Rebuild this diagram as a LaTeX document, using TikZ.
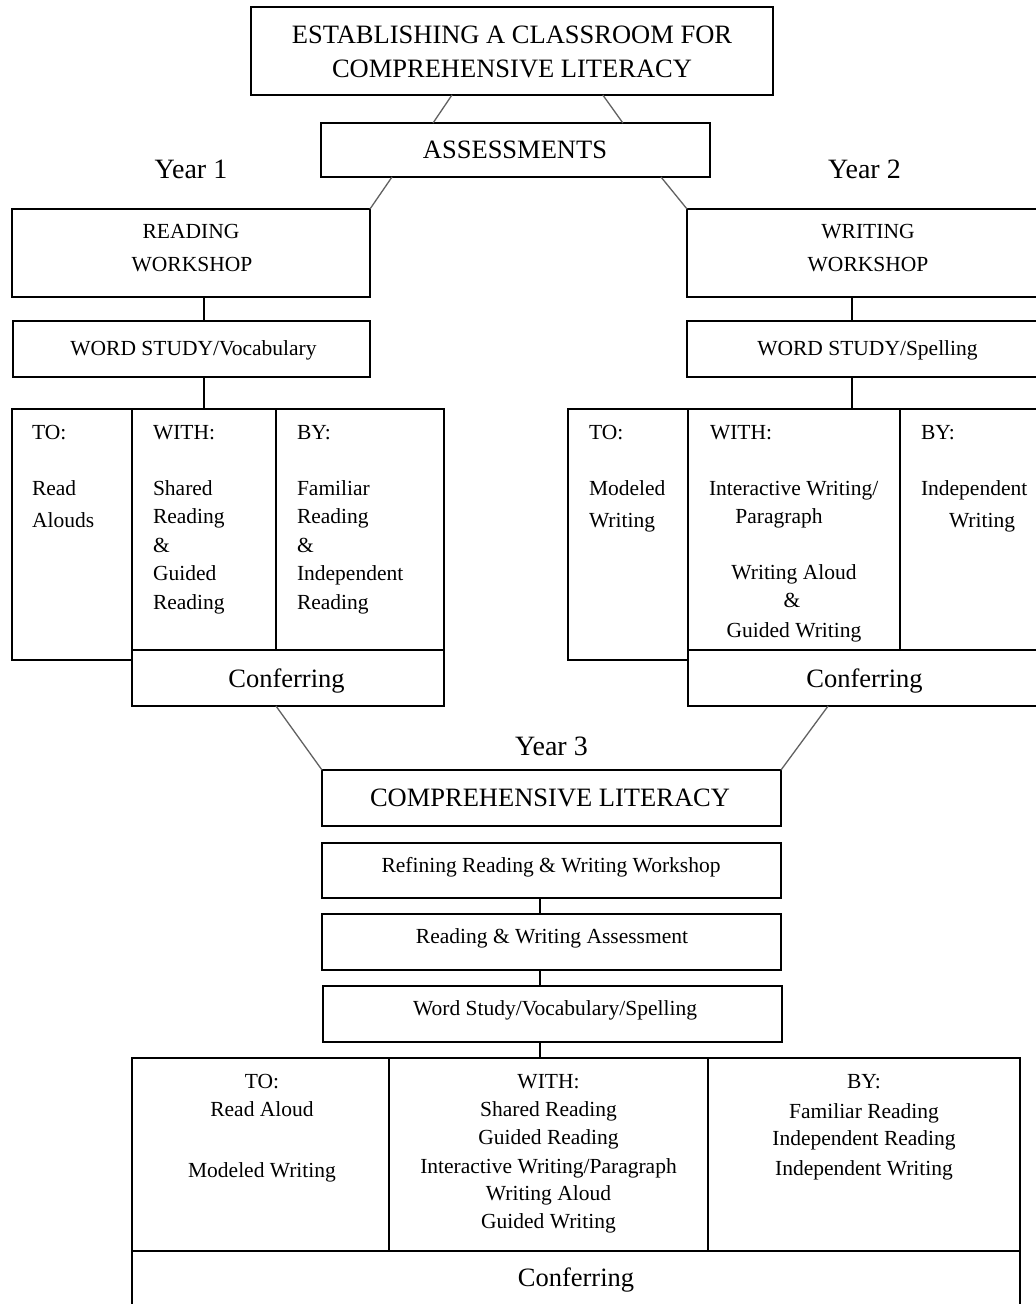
\documentclass[tikz,border=0pt]{standalone}
\usepackage{fontspec}
\setmainfont{Liberation Serif}
\usetikzlibrary{calc}
\begin{document}
\begin{tikzpicture}[x=1pt,y=-1pt,
  box/.style={draw=black,line width=1.6pt,inner sep=0pt,outer sep=0pt},
  big/.style={font=\fontsize{26.5}{30}\selectfont,inner sep=0pt,outer sep=0pt},
  small/.style={font=\fontsize{21.5}{25}\selectfont,inner sep=0pt,outer sep=0pt},
  yr/.style={font=\fontsize{28}{32}\selectfont,inner sep=0pt,outer sep=0pt},
  diag/.style={draw=black!62,line width=1.3pt},
  vline/.style={draw=black,line width=1.6pt}]
\useasboundingbox (0,0) rectangle (1036,1304);
\fill[white] (0,0) rectangle (1036,1304);
\clip (0,0) rectangle (1036,1304);

% ---------- boxes ----------
\node[box,minimum width=522pt,minimum height=88pt] (top) at (512,51) {};
\node[box,minimum width=389pt,minimum height=54pt] (ass) at (515.5,150) {};
\node[box,minimum width=358pt,minimum height=88pt] (rw) at (191,253) {};
\node[box,minimum width=357pt,minimum height=56pt] (wsv) at (191.5,349) {};
\node[box,minimum width=362pt,minimum height=88pt] (ww) at (868,253) {};
\node[box,minimum width=362pt,minimum height=56pt] (wss) at (868,349) {};

\node[box,minimum width=120pt,minimum height=251pt] (to1) at (72,534.5) {};
\node[box,minimum width=144pt,minimum height=241pt] (with1) at (204,529.5) {};
\node[box,minimum width=168pt,minimum height=241pt] (by1) at (360,529.5) {};
\node[box,minimum width=312pt,minimum height=56pt] (conf1) at (288,678) {};

\node[box,minimum width=120pt,minimum height=251pt] (to2) at (628,534.5) {};
\node[box,minimum width=212pt,minimum height=241pt] (with2) at (794,529.5) {};
\node[box,minimum width=160pt,minimum height=241pt] (by2) at (980,529.5) {};
\node[box,minimum width=352pt,minimum height=56pt] (conf2) at (864,678) {};

\node[box,minimum width=459pt,minimum height=56pt] (comp) at (551.5,798) {};
\node[box,minimum width=459pt,minimum height=55pt] (refine) at (551.5,870.5) {};
\node[box,minimum width=459pt,minimum height=56pt] (rwa) at (551.5,942) {};
\node[box,minimum width=459pt,minimum height=56pt] (wsvs) at (552.5,1014) {};

\node[box,minimum width=257pt,minimum height=193pt] (bto) at (260.5,1154.5) {};
\node[box,minimum width=319pt,minimum height=193pt] (bwith) at (548.5,1154.5) {};
\node[box,minimum width=312pt,minimum height=193pt] (bby) at (864,1154.5) {};
\node[box,minimum width=888pt,minimum height=79pt] (bconf) at (576,1290.5) {};

% ---------- connectors ----------
\draw[diag] ($(top.south west)!0.385!(top.south east)$) -- ($(ass.north west)!0.288!(ass.north east)$);
\draw[diag] ($(top.south west)!0.674!(top.south east)$) -- ($(ass.north west)!0.776!(ass.north east)$);
\draw[diag] ($(ass.south west)!0.1825!(ass.south east)$) -- (rw.north east);
\draw[diag] ($(ass.south west)!0.874!(ass.south east)$) -- (ww.north west);

\draw[vline] ($(rw.south west)!0.536!(rw.south east)$) coordinate (a1) -- (a1 |- wsv.north);
\draw[vline] (a1 |- wsv.south) -- (a1 |- with1.north);
\draw[vline] ($(ww.south west)!0.456!(ww.south east)$) coordinate (b1) -- (b1 |- wss.north);
\draw[vline] (b1 |- wss.south) -- (b1 |- with2.north);

\draw[diag] ($(conf1.south west)!0.4615!(conf1.south east)$) -- (comp.north west);
\draw[diag] ($(conf2.south west)!0.398!(conf2.south east)$) -- (comp.north east);

\draw[vline] ($(refine.south west)!0.475!(refine.south east)$) coordinate (c1) -- (c1 |- rwa.north);
\draw[vline] (c1 |- rwa.south) -- (c1 |- wsvs.north);
\draw[vline] (c1 |- wsvs.south) -- (c1 |- bwith.north);

% ---------- texts: top ----------
\node[big,anchor=base] (ttop1) at (512,43) {ESTABLISHING A CLASSROOM FOR};
\node[big,anchor=base] (ttop2) at (512,77) {COMPREHENSIVE LITERACY};
\node[big,anchor=base] (tass) at (515,158) {ASSESSMENTS};
\node[yr,anchor=base] (ty1) at (191,178) {Year 1};
\node[yr,anchor=base] (ty2) at (864.5,178) {Year 2};
\node[small,anchor=base] (trw1) at (191,238) {READING};
\node[small,anchor=base] (trw2) at (192,271) {WORKSHOP};
\node[small,anchor=base] (tww1) at (868,238) {WRITING};
\node[small,anchor=base] (tww2) at (868,271) {WORKSHOP};
\node[small,anchor=base] (twsv) at (193.5,355) {WORD STUDY/Vocabulary};
\node[small,anchor=base] (twss) at (867.5,355) {WORD STUDY/Spelling};

% ---------- Year 1 table ----------
\node[small,anchor=base west] (y1a) at (32,439) {TO:};
\node[small,anchor=base west] (y1b) at (32,495) {Read};
\node[small,anchor=base west] (y1c) at (32,527) {Alouds};
\node[small,anchor=base west] (y1d) at (153,439) {WITH:};
\node[small,anchor=base west] (y1e) at (153,495) {Shared};
\node[small,anchor=base west] (y1f) at (153,523.5) {Reading};
\node[small,anchor=base west] (y1g) at (153,552) {\&};
\node[small,anchor=base west] (y1h) at (153,580.5) {Guided};
\node[small,anchor=base west] (y1i) at (153,609) {Reading};
\node[small,anchor=base west] (y1j) at (297,439) {BY:};
\node[small,anchor=base west] (y1k) at (297,495) {Familiar};
\node[small,anchor=base west] (y1l) at (297,523.5) {Reading};
\node[small,anchor=base west] (y1m) at (297,552) {\&};
\node[small,anchor=base west] (y1n) at (297,580.5) {Independent};
\node[small,anchor=base west] (y1o) at (297,609) {Reading};
\node[big,anchor=base] (y1p) at (286.5,687) {Conferring};

% ---------- Year 2 table ----------
\node[small,anchor=base west] (y2a) at (589,439) {TO:};
\node[small,anchor=base west] (y2b) at (589,495) {Modeled};
\node[small,anchor=base west] (y2c) at (589,527) {Writing};
\node[small,anchor=base west] (y2d) at (710,439) {WITH:};
\node[small,anchor=base west] (y2e) at (709,495) {Interactive Writing/};
\node[small,anchor=base] (y2f) at (779,523) {Paragraph};
\node[small,anchor=base] (y2g) at (794,579) {Writing Aloud};
\node[small,anchor=base] (y2h) at (792,607) {\&};
\node[small,anchor=base] (y2i) at (794,637) {Guided Writing};
\node[small,anchor=base west] (y2j) at (921,439) {BY:};
\node[small,anchor=base west] (y2k) at (921,495) {Independent};
\node[small,anchor=base] (y2l) at (982,527) {Writing};
\node[big,anchor=base] (y2m) at (864.5,687) {Conferring};

% ---------- Year 3 ----------
\node[yr,anchor=base] (ty3) at (551.5,755) {Year 3};
\node[big,anchor=base] (tcomp) at (550,806) {COMPREHENSIVE LITERACY};
\node[small,anchor=base] (tref) at (551,872) {Refining Reading \& Writing Workshop};
\node[small,anchor=base] (trwa) at (552,943) {Reading \& Writing Assessment};
\node[small,anchor=base] (twsvs) at (555,1015) {Word Study/Vocabulary/Spelling};

\node[small,anchor=base] (b1a) at (262,1088) {TO:};
\node[small,anchor=base] (b1b) at (262,1116) {Read Aloud};
\node[small,anchor=base] (b1c) at (262,1177) {Modeled Writing};
\node[small,anchor=base] (b2a) at (548.5,1088) {WITH:};
\node[small,anchor=base] (b2b) at (548.5,1116) {Shared Reading};
\node[small,anchor=base] (b2c) at (548.5,1144) {Guided Reading};
\node[small,anchor=base] (b2d) at (548.5,1173) {Interactive Writing/Paragraph};
\node[small,anchor=base] (b2e) at (548.5,1200) {Writing Aloud};
\node[small,anchor=base] (b2f) at (548.5,1228) {Guided Writing};
\node[small,anchor=base] (b3a) at (864,1088) {BY:};
\node[small,anchor=base] (b3b) at (864,1118) {Familiar Reading};
\node[small,anchor=base] (b3c) at (864,1145) {Independent Reading};
\node[small,anchor=base] (b3d) at (864,1175) {Independent Writing};
\node[big,anchor=base] (bct) at (576,1286) {Conferring};
\end{tikzpicture}
\end{document}
